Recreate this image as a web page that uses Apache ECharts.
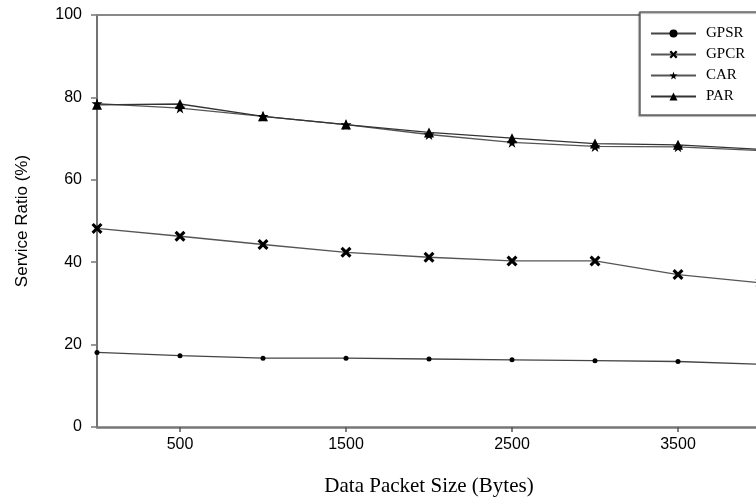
<!DOCTYPE html>
<html>
<head>
<meta charset="utf-8">
<script src="https://cdn.jsdelivr.net/npm/echarts@6/dist/echarts.min.js"></script>
<style>
    html, body { margin: 0; padding: 0; background: #fff; }
    #chart { width: 756px; height: 499px; }
</style>
</head>
<body>
<div id="chart"></div>
<script>
    // 数据
    let xValues = [0, 500, 1000, 1500, 2000, 2500, 3000, 3500, 4000];
    let xTickLabels = [500, 1500, 2500, 3500];
    let gpsr = [18.1, 17.3, 16.7, 16.7, 16.5, 16.3, 16.1, 15.9, 15.2];
    let gpcr = [48.2, 46.3, 44.3, 42.4, 41.2, 40.3, 40.3, 37, 35];
    let car = [78.5, 77.4, 75.4, 73.4, 71.0, 69.1, 68.1, 68.0, 67.1];
    let par = [78.2, 78.4, 75.4, 73.4, 71.5, 70.1, 68.8, 68.5, 67.4];

    let starPath = 'path://M50,0 L61,35 L98,35 L68,57 L79,91 L50,70 L21,91 L32,57 L2,35 L39,35 Z';
    let crossPath = 'path://M0,20 L20,0 L50,30 L80,0 L100,20 L70,50 L100,80 L80,100 L50,70 L20,100 L0,80 L30,50 Z';

    function pairs(ys) {
        let out = [];
        for (let i = 0; i < xValues.length; i++) {
            out.push([xValues[i], ys[i]]);
        }
        return out;
    }

    function makeSeries(name, ys, symbol, size, color) {
        return {
            name: name,
            type: 'line',
            data: pairs(ys),
            symbol: symbol,
            symbolSize: size,
            showAllSymbol: true,
            lineStyle: { color: color, width: 1.3 },
            itemStyle: { color: '#000' },
            emphasis: { disabled: true },
            animation: false
        };
    }

    let chart = echarts.init(document.getElementById('chart'));

    const option = {
        animation: false,
        grid: { left: 97, right: -5, top: 15, bottom: 72, outerBoundsMode: 'none' },
        // 图例外框 (右侧被裁掉)
        graphic: [{
            type: 'rect',
            z: 3,
            shape: { x: 640, y: 12, width: 140, height: 103 },
            style: {
                fill: '#fff',
                stroke: '#666',
                lineWidth: 1.5,
                shadowColor: 'rgba(0,0,0,0.35)',
                shadowOffsetX: -1,
                shadowOffsetY: 1,
                shadowBlur: 1
            }
        }],
        legend: {
            left: 640,
            top: 12,
            orient: 'vertical',
            padding: [14, 10, 14, 10],
            itemGap: 6,
            itemWidth: 45,
            itemHeight: 10,
            z: 5,
            textStyle: { fontFamily: 'Liberation Serif', fontSize: 15, color: '#000', padding: [0, 0, 0, 5] },
            data: ['GPSR', 'GPCR', 'CAR', 'PAR']
        },
        xAxis: [
            {
                type: 'value',
                min: 0,
                max: 4000,
                interval: 500,
                name: 'Data Packet Size (Bytes)',
                nameLocation: 'middle',
                nameGap: 49,
                nameMoveOverlap: false,
                nameTextStyle: { fontFamily: 'Liberation Serif', fontSize: 21, color: '#000' },
                axisLine: { show: true, lineStyle: { color: '#777', width: 2.5 } },
                axisTick: { show: true, customValues: xTickLabels, length: 5, lineStyle: { color: '#555', width: 1.5 } },
                axisLabel: {
                    customValues: xTickLabels,
                    margin: 10,
                    fontFamily: 'Liberation Sans',
                    fontSize: 16,
                    color: '#000',
                    formatter: function (v) { return String(v); }
                },
                splitLine: { show: false }
            },
            {
                type: 'value',
                position: 'top',
                min: 0,
                max: 4000,
                axisLine: { show: true, lineStyle: { color: '#888', width: 2 } },
                axisTick: { show: false },
                axisLabel: { show: false },
                splitLine: { show: false }
            }
        ],
        yAxis: {
            type: 'value',
            min: 0,
            max: 100,
            interval: 20,
            name: 'Service Ratio (%)',
            nameLocation: 'middle',
            nameGap: 66,
            nameMoveOverlap: false,
            nameTextStyle: { fontFamily: 'Liberation Sans', fontSize: 17, color: '#000' },
            axisLine: { show: true, lineStyle: { color: '#444', width: 1.5 } },
            axisTick: { show: true, length: 6, lineStyle: { color: '#777', width: 1.5 } },
            axisLabel: { margin: 15, fontFamily: 'Liberation Sans', fontSize: 16, color: '#000' },
            splitLine: { show: false }
        },
        series: [
            makeSeries('GPSR', gpsr, 'circle', 5, '#444'),
            makeSeries('GPCR', gpcr, crossPath, 11, '#555'),
            makeSeries('CAR', car, starPath, 11, '#555'),
            makeSeries('PAR', par, 'triangle', 10, '#333')
        ]
    };

    chart.setOption(option);
</script>
</body>
</html>
